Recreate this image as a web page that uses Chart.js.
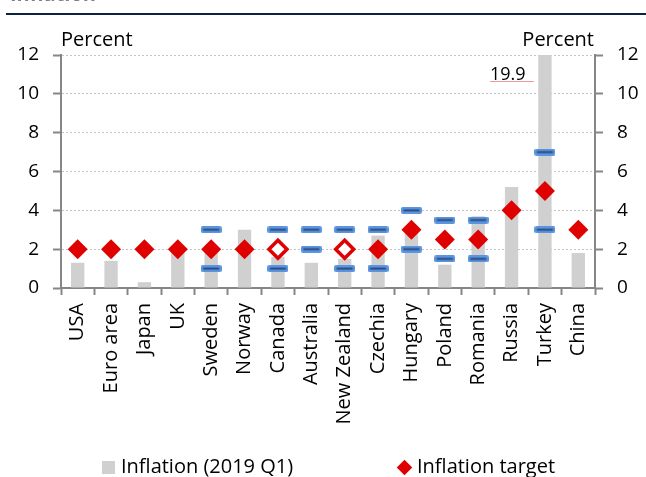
<!DOCTYPE html>
<html><head><meta charset="utf-8">
<script src="https://cdn.jsdelivr.net/npm/chart.js@4.4.1/dist/chart.umd.min.js"></script>
<style>
html,body{margin:0;padding:0;background:#fff;}
#wrap{position:relative;width:646px;height:477px;overflow:hidden;font-family:"Open Sans",sans-serif;color:#000;}
#c{position:absolute;left:0;top:0;}
.t{position:absolute;white-space:nowrap;font-size:20px;line-height:1;}
</style></head><body>
<div id="wrap">
<canvas id="c" width="646" height="477"></canvas>
<div class="t" style="left:10px;top:-16px;font-weight:bold;color:#808080;">Inflation</div>
<div style="position:absolute;left:6px;top:13px;width:640px;height:2px;background:#0b2343"></div>
<div class="t" style="left:61px;top:29px;">Percent</div>
<div class="t" style="right:52px;top:29px;">Percent</div>
<div class="t" style="left:490px;top:64px;font-size:18px;">19.9</div>
<div style="position:absolute;left:490px;top:81px;width:44px;height:1px;background:#f29a9a"></div>
<div style="position:absolute;left:102px;top:461px;width:13px;height:13px;background:#d0d0d0"></div>
<div class="t" style="left:121px;top:456px;">Inflation (2019 Q1)</div>
<div style="position:absolute;left:399px;top:462px;width:11px;height:11px;background:#df0000;transform:rotate(45deg)"></div>
<div class="t" style="left:417px;top:456px;">Inflation target</div>
</div>
<script>
const categories = ['USA','Euro area','Japan','UK','Sweden','Norway','Canada','Australia','New Zealand','Czechia','Hungary','Poland','Romania','Russia','Turkey','China'];
const inflation  = [1.3, 1.4, 0.3, 1.9, 1.9, 3.0, 1.6, 1.3, 1.5, 2.7, 3.1, 1.2, 3.7, 5.2, 19.9, 1.8];
const target     = [2, 2, 2, 2, 2, 2, 2, null, 2, 2, 3, 2.5, 2.5, 4, 5, 3];
const targetLow  = [null, null, null, null, 1, null, 1, 2, 1, 1, 2, 1.5, 1.5, null, 3, null];
const targetHigh = [null, null, null, null, 3, null, 3, 3, 3, 3, 4, 3.5, 3.5, null, 7, null];
const hollowTargets = ['Canada', 'New Zealand'];
const yTicks = [0, 2, 4, 6, 8, 10, 12];

const RED = '#df0000', AXIS = '#868686', FONT = '"Open Sans", sans-serif';

// dash marker for tolerance band bounds
const dash = document.createElement('canvas');
dash.width = 21; dash.height = 7;
(function(){
  const g = dash.getContext('2d');
  g.fillStyle = '#5b94e0';
  g.beginPath();
  if (g.roundRect) g.roundRect(0, 0, 21, 7, 2); else g.rect(0, 0, 21, 7);
  g.fill();
  g.fillStyle = '#2b4c7e';
  g.fillRect(2.5, 2.5, 16, 2);
})();

const isHollow = c => hollowTargets.includes(categories[c.dataIndex]);

new Chart(document.getElementById('c'), {
  type: 'bar',
  data: {
    labels: categories,
    datasets: [
      { type: 'line', label: 'Inflation target', data: target, showLine: false, yAxisID: 'y', order: 1,
        pointStyle: 'rectRot',
        pointRadius: c => isHollow(c) ? 9 : 10,
        pointBackgroundColor: c => isHollow(c) ? '#ffffff' : RED,
        pointBorderColor: RED,
        pointBorderWidth: c => isHollow(c) ? 3.5 : 0 },
      { type: 'line', label: 'Target range low', data: targetLow, showLine: false, yAxisID: 'y', order: 2,
        pointStyle: dash, pointRadius: 10 },
      { type: 'line', label: 'Target range high', data: targetHigh, showLine: false, yAxisID: 'y', order: 2,
        pointStyle: dash, pointRadius: 10 },
      { type: 'bar', label: 'Inflation (2019 Q1)', data: inflation, yAxisID: 'y', order: 3,
        backgroundColor: '#d0d0d0', barPercentage: 0.4, categoryPercentage: 1 }
    ]
  },
  options: {
    responsive: false, animation: false, events: [],
    layout: { padding: { top: 55, left: 0, right: 0, bottom: 0 } },
    plugins: { legend: { display: false }, tooltip: { enabled: false } },
    scales: {
      x: {
        grid: { offset: true, drawOnChartArea: false, tickLength: 7, tickColor: AXIS, tickWidth: 2 },
        border: { color: AXIS, width: 2 },
        ticks: { autoSkip: false, minRotation: 90, maxRotation: 90, padding: 8,
                 font: { family: FONT, size: 20 }, color: '#000' },
        afterFit: s => { s.height = 189; }
      },
      y: {
        position: 'left', min: 0, max: 12,
        afterBuildTicks: s => { s.ticks = yTicks.map(v => ({ value: v })); },
        ticks: { padding: 14, font: { family: FONT, size: 19 }, color: '#000' },
        grid: { color: c => c.tick && c.tick.value === 0 ? 'rgba(0,0,0,0)' : '#c4c4c4', lineWidth: 1,
                tickColor: AXIS, tickLength: 8, tickWidth: 2 },
        border: { color: AXIS, width: 2, dash: [2, 2] },
        afterFit: s => { s.width = 61; }
      },
      y2: {
        position: 'right', min: 0, max: 12,
        afterBuildTicks: s => { s.ticks = yTicks.map(v => ({ value: v })); },
        ticks: { padding: 14, font: { family: FONT, size: 19 }, color: '#000' },
        grid: { drawOnChartArea: false, tickColor: AXIS, tickLength: 8, tickWidth: 2 },
        border: { color: AXIS, width: 2 },
        afterFit: s => { s.width = 51; }
      }
    }
  }
});
</script>
</body></html>
